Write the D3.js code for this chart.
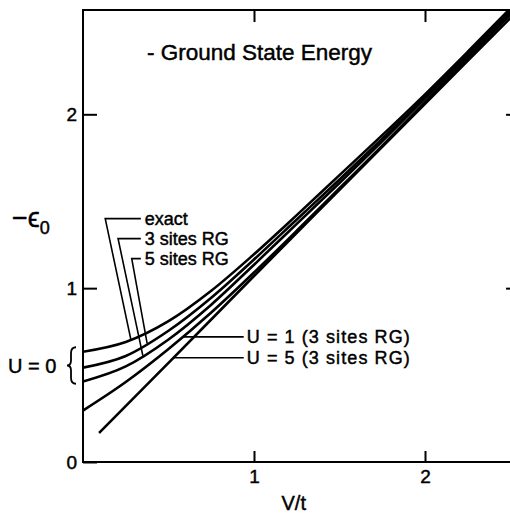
<!DOCTYPE html>
<html>
<head>
<meta charset="utf-8">
<script src="https://cdn.jsdelivr.net/npm/d3@7"></script>
<style>
  body { margin: 0; background: #fff; }
  text { font-family: "Liberation Sans", Helvetica, Arial, sans-serif; fill: #000; stroke: #000; stroke-width: 0.45px; }
</style>
</head>
<body>
<div id="chart"></div>
<script>
// V/t grid and -e0 values
const vGrid = [0, 0.25, 0.5, 0.75, 1, 1.25, 1.5, 1.75, 2, 2.25, 2.5];
const exact = [0.634, 0.69, 0.81, 0.985, 1.195, 1.42, 1.65, 1.88, 2.115, 2.36, 2.61];
const rg5 = [0.543, 0.61, 0.755, 0.945, 1.165, 1.395, 1.625, 1.86, 2.10, 2.35, 2.60];
const rg3 = [0.463, 0.55, 0.705, 0.905, 1.135, 1.37, 1.605, 1.845, 2.09, 2.335, 2.59];
const u1 = [0.296, 0.46, 0.65, 0.86, 1.09, 1.33, 1.575, 1.82, 2.07, 2.32, 2.575];
// U = 5 curve is nearly straight and starts a bit off the axis
const u5V = [0.094, 0.5, 1, 1.5, 2, 2.5];
const u5 = [0.167, 0.57, 1.07, 1.565, 2.06, 2.555];

const xTicks = [1, 2];
const yTicks = [0, 1, 2];

// Set the dimensions of the graph
const W = 510, H = 514;
const margin = { top: 10, left: 83, bottom: 52 };

const svg = d3.select("#chart")
    .append("svg")
    .attr("width", W)
    .attr("height", H);

const x = d3.scaleLinear().domain([0, 2.5]).range([margin.left, 510.5]);
const y = d3.scaleLinear().domain([0, 2.6]).range([H - margin.bottom, margin.top]);

const x0 = x(0), x1 = x(2.55), y0 = y(0), y1 = y(2.6);

svg.append("clipPath").attr("id", "clip")
    .append("rect")
    .attr("x", x0).attr("y", y1)
    .attr("width", x1 - x0).attr("height", y0 - y1);

// Frame
svg.append("rect")
    .attr("x", x0).attr("y", y1)
    .attr("width", x1 - x0).attr("height", y0 - y1)
    .attr("fill", "none")
    .attr("stroke", "#000")
    .attr("stroke-width", 2);

// Axes with inward ticks
const styleAxis = g => {
    g.select(".domain").remove();
    g.selectAll(".tick line").attr("stroke", "#000").attr("stroke-width", 2);
    g.selectAll(".tick text")
        .attr("fill", "#000")
        .style("font-size", "19px")
        .style("font-family", "'Liberation Sans', Helvetica, Arial, sans-serif");
};

svg.append("g")
    .attr("transform", `translate(0,${y0})`)
    .call(d3.axisBottom(x).tickValues(xTicks).tickSize(-11).tickPadding(8).tickFormat(d3.format("d")))
    .call(styleAxis);

svg.append("g")
    .attr("transform", `translate(${x0},0)`)
    .call(d3.axisLeft(y).tickValues(yTicks).tickSize(-14).tickPadding(6).tickFormat(d3.format("d")))
    .call(styleAxis);

svg.append("g")
    .attr("transform", `translate(0,${y1})`)
    .call(d3.axisTop(x).tickValues(xTicks).tickSize(-12).tickFormat(""))
    .call(styleAxis);

svg.append("g")
    .attr("transform", `translate(${x1},0)`)
    .call(d3.axisRight(y).tickValues([1, 2]).tickSize(-13).tickFormat(""))
    .call(styleAxis);

// Curves
const line = d3.line()
    .x(d => x(d[0]))
    .y(d => y(d[1]))
    .curve(d3.curveMonotoneX);

const series = [exact, rg5, rg3, u1].map(vals => vGrid.map((v, i) => [v, vals[i]]));
series.push(u5V.map((v, i) => [v, u5[i]]));

const plot = svg.append("g").attr("clip-path", "url(#clip)");
series.forEach(pts => {
    plot.append("path")
        .datum(pts)
        .attr("fill", "none")
        .attr("stroke", "#000")
        .attr("stroke-width", 2.6)
        .attr("d", line);
});

// value of a series at v (linear interpolation between read points)
function valueAt(xs, ys, v) {
    const i = Math.max(1, d3.bisectLeft(xs, v));
    const t = (v - xs[i - 1]) / (xs[i] - xs[i - 1]);
    return ys[i - 1] + t * (ys[i] - ys[i - 1]);
}

// Labels with leader lines (label corner in data units, end on a curve)
const leaders = [
    { text: "exact", cx: 0.13, cy: 1.40, ev: 0.28, vals: exact },
    { text: "3 sites RG", cx: 0.205, cy: 1.285, ev: 0.35, vals: rg3 },
    { text: "5 sites RG", cx: 0.285, cy: 1.17, ev: 0.375, vals: rg5 }
];
const textX = 0.35;

leaders.forEach(d => {
    const ey = valueAt(vGrid, d.vals, d.ev);
    svg.append("path")
        .attr("d", `M${x(textX) - 2},${y(d.cy)}H${x(d.cx)}L${x(d.ev)},${y(ey)}`)
        .attr("fill", "none")
        .attr("stroke", "#000")
        .attr("stroke-width", 1.6);
    svg.append("text")
        .attr("x", x(textX) + 2)
        .attr("y", y(d.cy) + 6)
        .style("font-size", "18px")
        .text(d.text);
});

const uLabels = [
    { text: "U = 1 (3 sites RG)", cy: 0.72, xs: vGrid, vals: u1 },
    { text: "U = 5 (3 sites RG)", cy: 0.60, xs: u5V, vals: u5 }
];
const uTextX = 0.975;

uLabels.forEach(d => {
    // find v where the curve reaches the label height
    const v = d3.range(0, 1, 0.002).find(t => t >= d.xs[0] && valueAt(d.xs, d.vals, t) >= d.cy);
    svg.append("line")
        .attr("x1", x(v)).attr("x2", x(uTextX) - 6)
        .attr("y1", y(d.cy)).attr("y2", y(d.cy))
        .attr("stroke", "#000")
        .attr("stroke-width", 1.6);
    svg.append("text")
        .attr("x", x(uTextX) - 3)
        .attr("y", y(d.cy) + 6)
        .attr("textLength", 163)
        .attr("lengthAdjust", "spacing")
        .style("font-size", "18px")
        .text(d.text);
});

// U = 0 brace
const bTop = y(0.66), bBot = y(0.45), bMid = (bTop + bBot) / 2, bx = x0 - 12;
svg.append("path")
    .attr("d", `M${bx + 5},${bTop} Q${bx},${bTop} ${bx},${bTop + 6} L${bx},${bMid - 5} Q${bx},${bMid} ${bx - 4},${bMid}
               Q${bx},${bMid} ${bx},${bMid + 5} L${bx},${bBot - 6} Q${bx},${bBot} ${bx + 5},${bBot}`)
    .attr("fill", "none")
    .attr("stroke", "#000")
    .attr("stroke-width", 1.8);

svg.append("text")
    .attr("x", 8)
    .attr("y", bMid + 7)
    .style("font-size", "20px")
    .text("U = 0");

// Title
svg.append("text")
    .attr("x", 147)
    .attr("y", 60)
    .style("font-size", "22.5px")
    .text("- Ground State Energy");

// Axis titles
svg.append("text")
    .attr("x", (x0 + x(2.5)) / 2 - 3)
    .attr("y", 510)
    .attr("text-anchor", "middle")
    .style("font-size", "20px")
    .text("V/t");

const yl = svg.append("text")
    .attr("x", 12)
    .attr("y", 227)
    .style("font-size", "27px");
yl.append("tspan").text("\u2212\u03F5");
yl.append("tspan").attr("dy", 7).style("font-size", "18px").text("0");
</script>
</body>
</html>
